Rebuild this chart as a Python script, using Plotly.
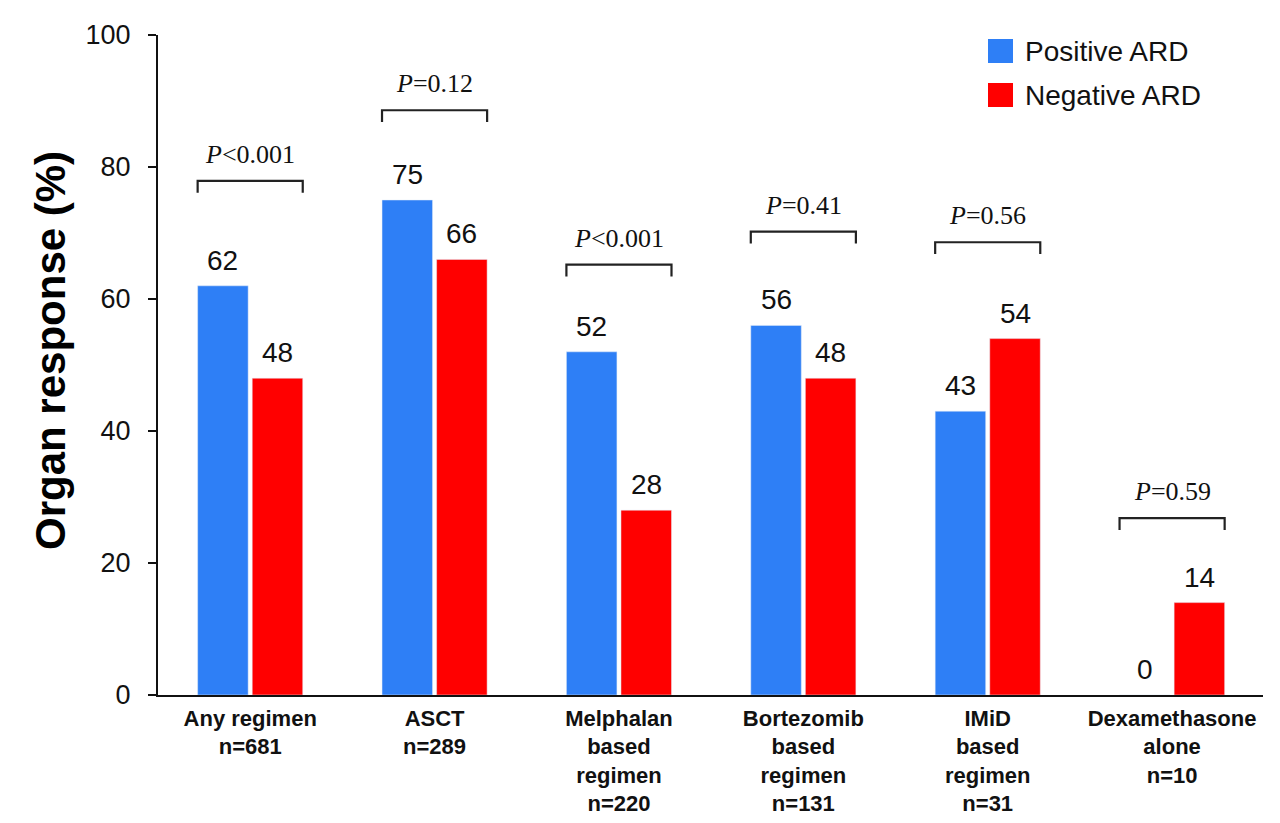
import plotly.graph_objects as go

# ---- data ----
categories = ["Any regimen<br>n=681", "ASCT<br>n=289",
              "Melphalan<br>based<br>regimen<br>n=220",
              "Bortezomib<br>based<br>regimen<br>n=131",
              "IMiD<br>based<br>regimen<br>n=31",
              "Dexamethasone<br>alone<br>n=10"]
positive_ard = [62, 75, 52, 56, 43, 0]
negative_ard = [48, 66, 28, 48, 54, 14]
p_labels = ["<i>P</i>&lt;0.001", "<i>P</i>=0.12", "<i>P</i>&lt;0.001",
            "<i>P</i>=0.41", "<i>P</i>=0.56", "<i>P</i>=0.59"]
bracket_levels = [77.9, 88.6, 65.2, 70.2, 68.6, 26.8]
series_names = ["Positive ARD", "Negative ARD"]
y_ticks = [0, 20, 40, 60, 80, 100]

# ---- style ----
BLUE = "#2E7FF6"
RED = "#FF0000"
W_BAR = 0.274
OFF_BLUE = -0.285
OFF_RED = 0.011
FONT = "Liberation Sans"
SERIF = "Liberation Serif"

L, R, T, B = 158, 17, 35, 128
PW = 1280 - L - R
PH = 823 - T - B

xs = list(range(len(categories)))

fig = go.Figure()
fig.add_trace(go.Bar(x=xs, y=positive_ard, name=series_names[0], marker_color=BLUE,
                     width=W_BAR, offset=OFF_BLUE, showlegend=False))
fig.add_trace(go.Bar(x=xs, y=negative_ard, name=series_names[1], marker_color=RED,
                     width=W_BAR, offset=OFF_RED, showlegend=False))

annotations = []
shapes = []
# value labels
for i in xs:
    for vals, off in ((positive_ard, OFF_BLUE), (negative_ard, OFF_RED)):
        annotations.append(dict(x=i + off + W_BAR / 2, y=vals[i], xref="x", yref="y",
                                text=str(vals[i]), showarrow=False, yanchor="bottom",
                                yshift=8, font=dict(family=FONT, size=28, color="#111")))
# p-value brackets
for i in xs:
    x0 = i + OFF_BLUE
    x1 = i + OFF_RED + W_BAR
    yb = bracket_levels[i]
    leg = 1.8
    shapes.append(dict(type="path", xref="x", yref="y",
                       path=f"M {x0} {yb-leg} L {x0} {yb} L {x1} {yb} L {x1} {yb-leg}",
                       line=dict(color="#222", width=2.2)))
    annotations.append(dict(x=(x0 + x1) / 2, y=yb, xref="x", yref="y", text=p_labels[i],
                            showarrow=False, yanchor="bottom", yshift=10,
                            font=dict(family=SERIF, size=26, color="#111")))

# custom legend
def px_x(p):
    return (p - L) / PW

def px_y(p):
    return (823 - B - p) / PH

for (name, col, top) in ((series_names[0], BLUE, 39), (series_names[1], RED, 83)):
    shapes.append(dict(type="rect", xref="paper", yref="paper",
                       x0=px_x(988), x1=px_x(1013), y0=px_y(top + 24), y1=px_y(top),
                       fillcolor=col, line=dict(width=0)))
    annotations.append(dict(x=px_x(1023), y=px_y(top + 12), xref="paper", yref="paper",
                            text=name, showarrow=False, xanchor="left", yanchor="middle",
                            font=dict(family=FONT, size=28, color="#111")))

# y-axis title
annotations.append(dict(x=px_x(50), y=px_y(351), xref="paper", yref="paper",
                        text="<b>Organ response (%)</b>", textangle=-90, showarrow=False,
                        xanchor="center", yanchor="middle",
                        font=dict(family=FONT, size=42, color="#000")))

fig.update_layout(
    width=1280, height=823,
    margin=dict(l=L, r=R, t=T, b=B, autoexpand=False),
    paper_bgcolor="white", plot_bgcolor="white",
    barmode="overlay",
    shapes=shapes, annotations=annotations,
    showlegend=False,
)
fig.update_xaxes(range=[-0.5, 5.493], tickvals=xs, ticktext=categories,
                 showline=True, linecolor="#111", linewidth=2.2, ticks="",
                 showgrid=False, zeroline=False, ticklabelstandoff=2, automargin=False,
                 tickfont=dict(family=FONT, size=22, color="#111", weight="bold"))
fig.update_yaxes(range=[0, 100], tickvals=y_ticks, showline=True, linecolor="#111",
                 linewidth=2.2, ticks="outside", ticklen=8, tickwidth=2.2,
                 tickcolor="#111", showgrid=False, zeroline=False, automargin=False,
                 ticklabelstandoff=12,
                 tickfont=dict(family=FONT, size=27, color="#111"))

fig.write_html("out.html", config={"displayModeBar": False},
               post_script="document.body.style.margin='0';document.body.style.overflow='hidden';")
